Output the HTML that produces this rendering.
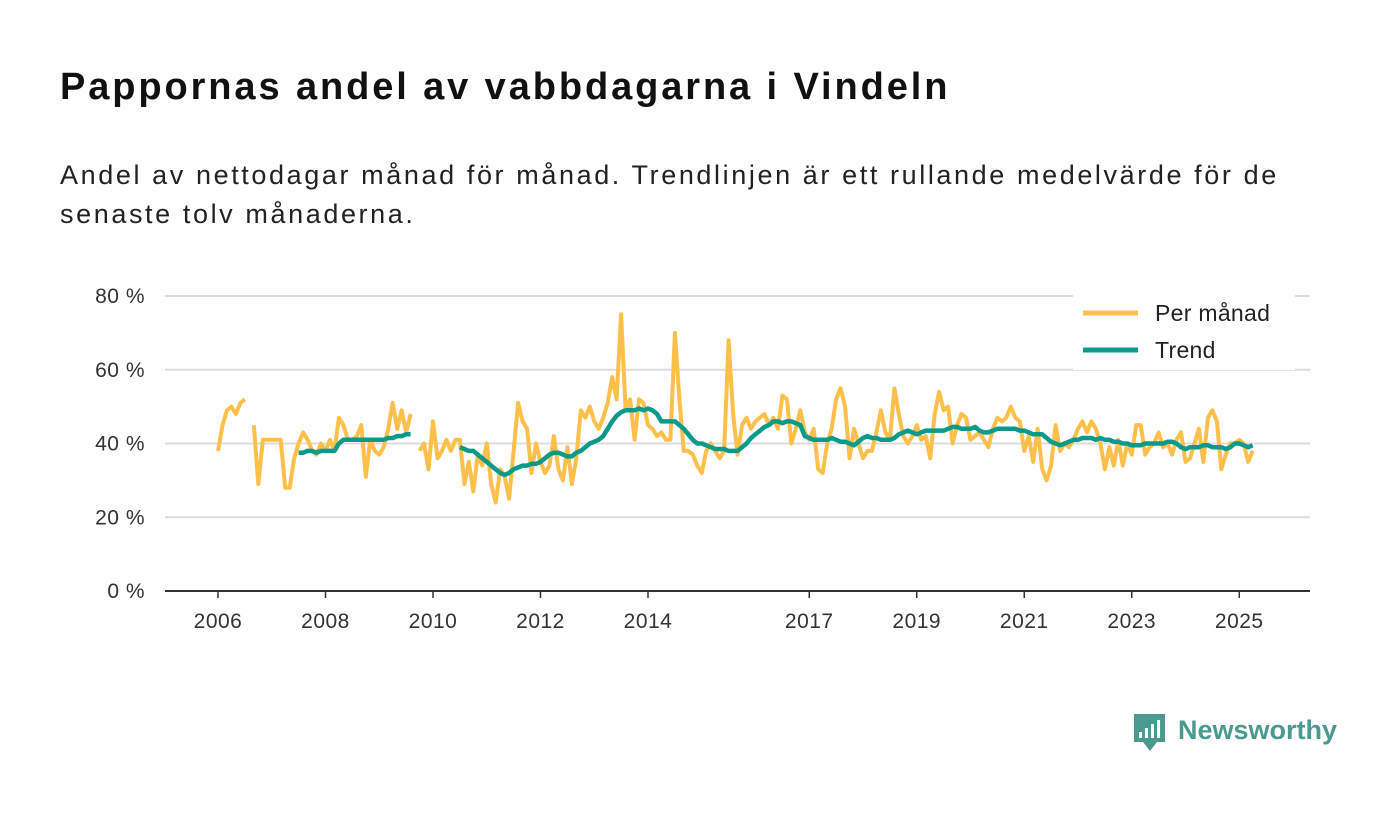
<!DOCTYPE html>
<html><head><meta charset="utf-8"><style>
body{margin:0;background:#fff;width:1400px;height:813px;overflow:hidden;font-family:"Liberation Sans","DejaVu Sans",sans-serif;}
h1{position:absolute;left:60px;top:66px;margin:0;font-size:38px;font-weight:bold;color:#111;letter-spacing:2.9px;white-space:nowrap}
p.sub{position:absolute;left:60px;top:156px;margin:0;font-size:27px;line-height:39px;color:#222;width:1300px;letter-spacing:2.6px;white-space:nowrap}
svg{position:absolute;left:0;top:0}
</style></head><body>
<h1>Pappornas andel av vabbdagarna i Vindeln</h1>
<p class="sub">Andel av nettodagar månad för månad. Trendlinjen är ett rullande medelvärde för de<br>senaste tolv månaderna.</p>
<svg id="chart" width="1400" height="813"></svg>
<script>
const startYear = 2006;
const yTicks = [0,20,40,60,80];
const xTickYears = [2006,2008,2010,2012,2014,2017,2019,2021,2023,2025];
const monthly = [
38,45,49,50,48,51,52,null,45,29,41,41,
41,41,41,28,28,36,40,43,41,38,37,40,
38,41,38,47,45,41,41,42,45,31,41,38,
37,39,44,51,44,49,43,48,null,38,40,33,
46,36,38,41,38,41,41,29,35,27,37,34,
40,29,24,33,31,25,38,51,46,44,32,40,
35,32,34,42,33,30,39,29,36,49,47,50,
46,44,47,51,58,52,75,49,52,41,52,51,
45,44,42,43,41,41,70,52,38,38,37,34,
32,38,40,38,36,38,68,48,37,45,47,44,
46,47,48,45,47,44,53,52,40,44,49,43,
41,44,33,32,40,44,52,55,50,36,44,40,
36,38,38,43,49,43,41,55,48,42,40,42,
45,41,42,36,48,54,49,50,40,45,48,47,
41,42,43,41,39,44,47,46,47,50,47,46,
38,42,35,44,33,30,34,45,38,40,39,41,
44,46,43,46,44,40,33,39,34,41,34,40,
37,45,45,37,39,40,43,39,40,37,41,43,
35,36,40,44,35,47,49,46,33,37,40,40,
41,40,35,38];
const trend = [
null,null,null,null,null,null,null,null,null,null,null,null,
null,null,null,null,null,null,37.5,37.5,38,38,37.5,38,
38,38,38,40,41,41,41,41,41,41,41,41,
41,41,41.5,41.5,42,42,42.5,42.5,null,null,null,null,
null,null,null,null,null,null,39,38.5,38,38,37,36,
35,34,33,32,31.5,32,33,33.5,34,34,34.5,34.5,
35,36,37,37.5,37.5,37,36.5,36.5,37.5,38,39,40,
40.5,41,42,44,46,47.5,48.5,49,49,49,49.5,49,
49.5,49,48,46,46,46,46,45,44,42.5,41,40,
40,39.5,39,38.5,38.5,38.5,38,38,38,39,40,41.5,
42.5,43.5,44.5,45,46,46,45.5,46,46,45.5,45,42,
41.5,41,41,41,41,41.5,41,40.5,40.5,40,39.5,40.5,
41.5,42,41.5,41.5,41,41,41,41.5,42.5,43,43.5,43,
42.5,43,43.5,43.5,43.5,43.5,43.5,44,44.5,44.5,44,44,
44,44.5,43.5,43,43,43.5,44,44,44,44,44,43.5,
43.5,43,42.5,42.5,42.5,41.5,40.5,40,39.5,40,40.5,41,
41,41.5,41.5,41.5,41,41.5,41,41,40.5,40.5,40,40,
39.5,39.5,39.5,40,40,40,40,40,40.5,40.5,40,39,
38.5,39,39,39,39.5,39.5,39,39,39,38.5,39,40,
40,39.5,39,39.5];

const NS='http://www.w3.org/2000/svg';
const svg=document.getElementById('chart');
const X0=165,X1=1310;
const xYear=y=>218+(y-startYear)*53.75;
const xIdx=i=>xYear(startYear+i/12);
const yVal=v=>591-v*(591-296)/80;
function mk(t,a){const e=document.createElementNS(NS,t);for(const k in a)e.setAttribute(k,a[k]);svg.appendChild(e);return e;}
yTicks.forEach(v=>{
  if(v>0){const g=mk('line',{x1:X0,x2:X1,y1:yVal(v),y2:yVal(v),stroke:'#dcdcdc','stroke-width':2});
  
  }
  const t=mk('text',{x:145,y:yVal(v)+7,'text-anchor':'end','font-size':21,fill:'#333','letter-spacing':0.5});
  t.textContent=v+' %';
  
  
});
const ax=mk('line',{x1:X0,x2:X1,y1:591,y2:591,stroke:'#333','stroke-width':2});


xTickYears.forEach(yr=>{
  const x=xYear(yr);
  mk('line',{x1:x,x2:x,y1:591,y2:598,stroke:'#333','stroke-width':1.5});
  const t=mk('text',{x:x,y:628,'text-anchor':'middle','font-size':21,fill:'#333','letter-spacing':0.5});
  t.textContent=yr;
  
  
});
function path(arr){let d='',pen=false;arr.forEach((v,i)=>{if(v==null){pen=false;return;}d+=(pen?'L':'M')+xIdx(i).toFixed(1)+','+yVal(v).toFixed(1);pen=true;});return d;}
const p1=mk('path',{d:path(monthly),fill:'none',stroke:'#fec04a','stroke-width':4,'stroke-linejoin':'round'});


const p2=mk('path',{d:path(trend),fill:'none',stroke:'#0b9a8a','stroke-width':4.5,'stroke-linejoin':'round'});


const lb=mk('rect',{x:1073,y:294,width:222,height:76,fill:'#fff'});


[['Per månad','#fec04a',313],['Trend','#0b9a8a',350]].forEach(([n,c,y])=>{
  mk('line',{x1:1083,x2:1138,y1:y,y2:y,stroke:c,'stroke-width':5});
  const t=mk('text',{x:1155,y:y+8,'font-size':23,fill:'#222','letter-spacing':0.3});
  t.textContent=n;
  
  
});
const lg=mk('path',{d:'M1134,714h31v28h-8l-7,9l-7,-9h-9z',fill:'#4a9a90'});


[[1139,732,6],[1145,728,10],[1151,724,14],[1157,720,18]].forEach(([x,y,h])=>mk('rect',{x:x,y:y,width:3,height:h,fill:'#fff'}));
const lt=mk('text',{x:1178,y:739,'font-size':27,'font-weight':'bold',fill:'#4a9a90'});
lt.textContent='Newsworthy';


</script>
</body></html>
